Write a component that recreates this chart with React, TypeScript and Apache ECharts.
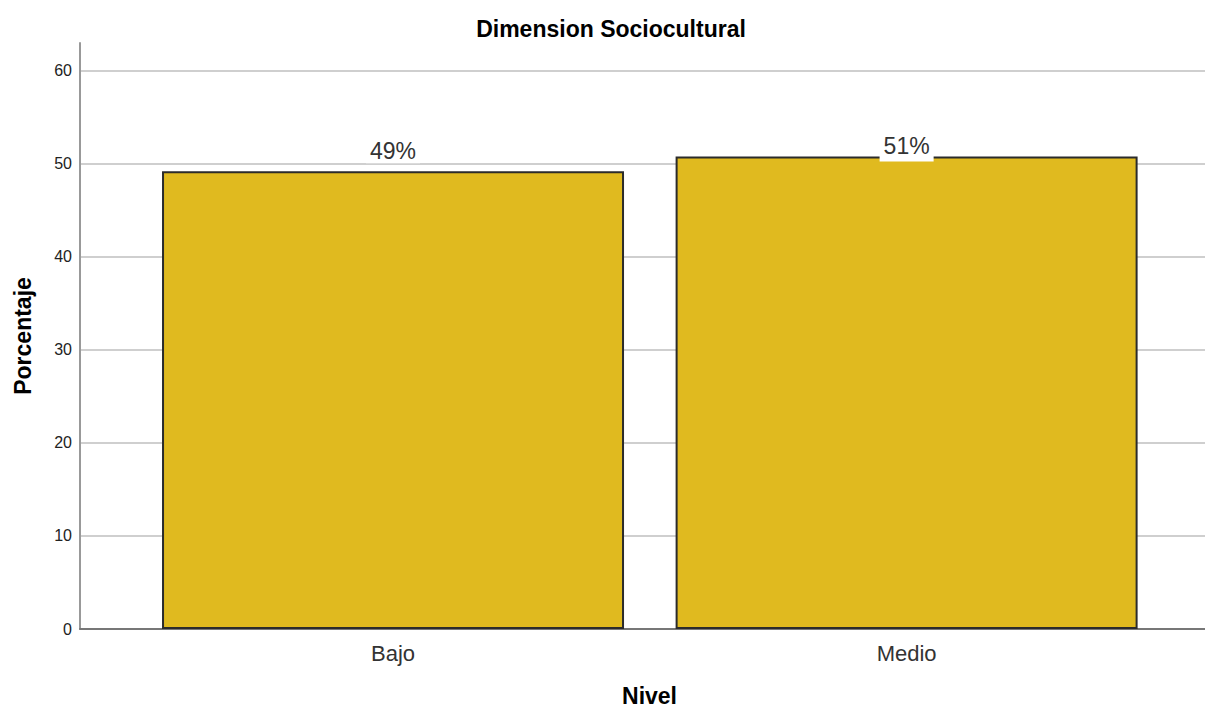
import React, { useEffect, useRef } from "react";
import * as echarts from "echarts";

const categories = ["Bajo", "Medio"];
const values = [49.2, 50.8];
const labels = ["49%", "51%"];
const yTicks = [0, 10, 20, 30, 40, 50, 60];

export default function App() {
  const ref = useRef<HTMLDivElement>(null);
  useEffect(() => {
    const chart = echarts.init(ref.current!, null, { renderer: "svg" });
    const labelDist = [8, -5];
    const labelPad = [
      [1, 4, 1, 4],
      [1, 4, 4, 4],
    ];
    const font = "Arial, Liberation Sans, sans-serif";
    chart.setOption({
      animation: false,
      backgroundColor: "#ffffff",
      title: {
        text: "Dimension Sociocultural",
        left: 606,
        textAlign: "center",
        top: 12,
        textStyle: { fontFamily: font, fontSize: 23, fontWeight: "bold", color: "#000" },
      },
      grid: { left: 80, right: 0, top: 43, bottom: 79, outerBoundsMode: "none", containLabel: false },
      xAxis: {
        type: "value",
        min: -0.6095,
        max: 1.581,
        name: "Nivel",
        nameLocation: "middle",
        nameGap: 55,
        nameTextStyle: { fontFamily: font, fontSize: 23, fontWeight: "bold", color: "#000", padding: [0, 0, 0, 14] },
        axisLine: { show: true, onZero: false, lineStyle: { color: "#777", width: 2 } },
        axisTick: { show: false },
        splitLine: { show: false },
        axisLabel: {
          customValues: [0, 1],
          formatter: (v: number) => categories[Math.round(v)] ?? "",
          fontFamily: font,
          fontSize: 22,
          color: "#333",
          margin: 13,
        },
      },
      yAxis: {
        type: "value",
        min: 0,
        max: 63,
        interval: 10,
        name: "Porcentaje",
        nameLocation: "middle",
        nameGap: 46,
        nameTextStyle: { fontFamily: font, fontSize: 23, fontWeight: "bold", color: "#000" },
        axisLine: { show: true, onZero: false, lineStyle: { color: "#999", width: 2 } },
        axisTick: { show: false, customValues: yTicks },
        splitLine: { show: true, lineStyle: { color: "#cfcfcf", width: 2 } },
        axisLabel: {
          customValues: yTicks,
          fontFamily: font,
          fontSize: 16,
          color: "#222",
          margin: 8,
        },
      },
      series: [
        {
          type: "bar",
          barWidth: 462,
          data: values.map((v, i) => ({
            value: [i, v],
            label: {
              show: true,
              position: "top",
              distance: labelDist[i],
              formatter: labels[i],
              fontFamily: font,
              fontSize: 23,
              color: "#333",
              backgroundColor: "#fff",
              padding: labelPad[i],
            },
          })),
          itemStyle: { color: "#E0BA1F", borderColor: "#2b2b2b", borderWidth: 2 },
        },
      ],
    });
    return () => chart.dispose();
  }, []);
  return <div ref={ref} style={{ position: "fixed", left: 0, top: 0, width: 1205, height: 708 }} />;
}
